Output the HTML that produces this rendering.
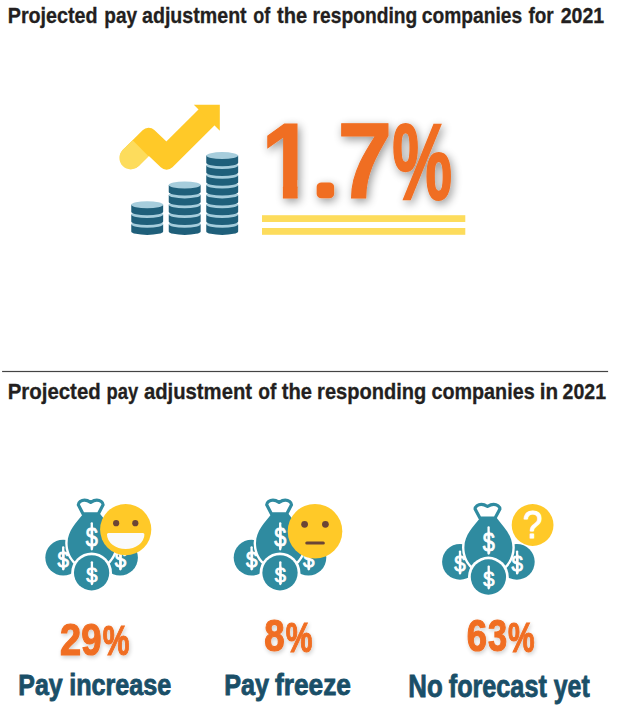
<!DOCTYPE html>
<html lang="en">
<head>
<meta charset="utf-8">
<title>Projected pay adjustment 2021</title>
<style>
  html, body { margin: 0; padding: 0; background: #ffffff; }
  body { width: 637px; height: 710px; overflow: hidden; }
  svg { display: block; }
  text { font-family: "Liberation Sans", sans-serif; font-weight: bold; }
  .title { fill: #231f20; font-size: 21.5px; stroke: #231f20; stroke-width: 0.3px; }
  .big { fill: #f06e22; font-size: 106.8px; stroke: #f06e22; stroke-width: 1.2px; }
  .big .dot { font-size: 48px; stroke-width: 8.4px; stroke-linejoin: round; }
  .big .pc { font-size: 108.4px; stroke-width: 2px; }
  .pct { fill: #f06e22; font-size: 43.8px; stroke: #f06e22; stroke-width: 1.2px; }
  .pct .sp { font-size: 42.4px; }
  .lbl { fill: #1a4f68; font-size: 28.7px; stroke: #1a4f68; stroke-width: 0.85px; }
  .lg { font-size: 31.9px; }
  .ds { fill: #ffffff; font-weight: normal; stroke: #ffffff; stroke-width: 0.8px; stroke-linejoin: round; }
  .qm { fill: #ffffff; font-weight: normal; stroke: #ffffff; stroke-width: 1.1px; stroke-linejoin: round; }
</style>
</head>
<body>
<svg width="637" height="710" viewBox="0 0 637 710">
  <defs>
    <clipPath id="nofoot"><path clip-rule="evenodd" d="M0 0H637V710H0Z M255 180H282.9V206H255Z M297.6 180H314.5V206H297.6Z"/></clipPath>
    <filter id="sh" x="-20%" y="-30%" width="140%" height="170%">
      <feGaussianBlur in="SourceAlpha" stdDeviation="4.6"/>
      <feOffset dx="2.2" dy="3.2" result="b"/>
      <feComponentTransfer><feFuncA type="linear" slope="0.42"/></feComponentTransfer>
      <feMerge><feMergeNode/><feMergeNode in="SourceGraphic"/></feMerge>
    </filter>
    <filter id="sh2" x="-20%" y="-30%" width="140%" height="170%">
      <feGaussianBlur in="SourceAlpha" stdDeviation="2"/>
      <feOffset dx="1" dy="1.5" result="b"/>
      <feComponentTransfer><feFuncA type="linear" slope="0.2"/></feComponentTransfer>
      <feMerge><feMergeNode/><feMergeNode in="SourceGraphic"/></feMerge>
    </filter>
  </defs>

  <!-- ===== Section 1 ===== -->
  <text class="title" y="22.8"><tspan x="7.72" textLength="89.91" lengthAdjust="spacingAndGlyphs">Projected</tspan> <tspan x="104.37" textLength="32.79" lengthAdjust="spacingAndGlyphs">pay</tspan> <tspan x="142.01" textLength="104.66" lengthAdjust="spacingAndGlyphs">adjustment</tspan> <tspan x="253.18" textLength="16.99" lengthAdjust="spacingAndGlyphs">of</tspan> <tspan x="277.10" textLength="30.21" lengthAdjust="spacingAndGlyphs">the</tspan> <tspan x="312.55" textLength="104.68" lengthAdjust="spacingAndGlyphs">responding</tspan> <tspan x="421.83" textLength="100.42" lengthAdjust="spacingAndGlyphs">companies</tspan> <tspan x="528.52" textLength="25.23" lengthAdjust="spacingAndGlyphs">for</tspan> <tspan x="560.71" textLength="43.47" lengthAdjust="spacingAndGlyphs">2021</tspan></text>

  <g id="arrow">
    <path d="M128.65 156.05 L148.55 136.15 L166.46 153.16 L206.18 113.73 L210.26 117.85 L166.54 161.24 L148.65 144.25 L132.75 160.15Z" fill="#ffc928" stroke="#ffc928" stroke-width="16.8" stroke-linejoin="round"/>
    <circle cx="130.7" cy="158.1" r="11.3" fill="#fddc5c"/>
    <line x1="130.7" y1="158.1" x2="140.6" y2="148.2" stroke="#fddc5c" stroke-width="22.6"/>
    <polygon points="193.8,104.8 219.8,104.8 219.8,130.8" fill="#ffc928"/>
  </g>
  <g id="coins">
    <path d="M131.25 224.34v7.06a15.95 3.5 0 0 0 31.90 0v-7.06z" fill="#1f5f7a"/>
    <ellipse cx="147.20" cy="224.34" rx="15.95" ry="3.5" fill="#a6cddc"/>
    <path d="M131.25 214.52v7.06a15.95 3.5 0 0 0 31.90 0v-7.06z" fill="#1f5f7a"/>
    <ellipse cx="147.20" cy="214.52" rx="15.95" ry="3.5" fill="#a6cddc"/>
    <path d="M131.25 204.70v7.06a15.95 3.5 0 0 0 31.90 0v-7.06z" fill="#1f5f7a"/>
    <ellipse cx="147.20" cy="204.70" rx="15.95" ry="3.5" fill="#a6cddc"/>
    <path d="M168.75 224.34v7.06a15.95 3.5 0 0 0 31.90 0v-7.06z" fill="#1f5f7a"/>
    <ellipse cx="184.70" cy="224.34" rx="15.95" ry="3.5" fill="#a6cddc"/>
    <path d="M168.75 214.52v7.06a15.95 3.5 0 0 0 31.90 0v-7.06z" fill="#1f5f7a"/>
    <ellipse cx="184.70" cy="214.52" rx="15.95" ry="3.5" fill="#a6cddc"/>
    <path d="M168.75 204.70v7.06a15.95 3.5 0 0 0 31.90 0v-7.06z" fill="#1f5f7a"/>
    <ellipse cx="184.70" cy="204.70" rx="15.95" ry="3.5" fill="#a6cddc"/>
    <path d="M168.75 194.88v7.06a15.95 3.5 0 0 0 31.90 0v-7.06z" fill="#1f5f7a"/>
    <ellipse cx="184.70" cy="194.88" rx="15.95" ry="3.5" fill="#a6cddc"/>
    <path d="M168.75 185.06v7.06a15.95 3.5 0 0 0 31.90 0v-7.06z" fill="#1f5f7a"/>
    <ellipse cx="184.70" cy="185.06" rx="15.95" ry="3.5" fill="#a6cddc"/>
    <path d="M206.25 224.34v7.06a15.95 3.5 0 0 0 31.90 0v-7.06z" fill="#1f5f7a"/>
    <ellipse cx="222.20" cy="224.34" rx="15.95" ry="3.5" fill="#a6cddc"/>
    <path d="M206.25 214.52v7.06a15.95 3.5 0 0 0 31.90 0v-7.06z" fill="#1f5f7a"/>
    <ellipse cx="222.20" cy="214.52" rx="15.95" ry="3.5" fill="#a6cddc"/>
    <path d="M206.25 204.70v7.06a15.95 3.5 0 0 0 31.90 0v-7.06z" fill="#1f5f7a"/>
    <ellipse cx="222.20" cy="204.70" rx="15.95" ry="3.5" fill="#a6cddc"/>
    <path d="M206.25 194.88v7.06a15.95 3.5 0 0 0 31.90 0v-7.06z" fill="#1f5f7a"/>
    <ellipse cx="222.20" cy="194.88" rx="15.95" ry="3.5" fill="#a6cddc"/>
    <path d="M206.25 185.06v7.06a15.95 3.5 0 0 0 31.90 0v-7.06z" fill="#1f5f7a"/>
    <ellipse cx="222.20" cy="185.06" rx="15.95" ry="3.5" fill="#a6cddc"/>
    <path d="M206.25 175.24v7.06a15.95 3.5 0 0 0 31.90 0v-7.06z" fill="#1f5f7a"/>
    <ellipse cx="222.20" cy="175.24" rx="15.95" ry="3.5" fill="#a6cddc"/>
    <path d="M206.25 165.42v7.06a15.95 3.5 0 0 0 31.90 0v-7.06z" fill="#1f5f7a"/>
    <ellipse cx="222.20" cy="165.42" rx="15.95" ry="3.5" fill="#a6cddc"/>
    <path d="M206.25 155.60v7.06a15.95 3.5 0 0 0 31.90 0v-7.06z" fill="#1f5f7a"/>
    <ellipse cx="222.20" cy="155.60" rx="15.95" ry="3.5" fill="#a6cddc"/>
  </g>


  <g filter="url(#sh)">
    <text class="big" clip-path="url(#nofoot)" y="197.8"><tspan x="261.16" textLength="53.58" lengthAdjust="spacingAndGlyphs">1</tspan><tspan class="dot" x="317.8" y="194.2" textLength="15.35" lengthAdjust="spacingAndGlyphs">.</tspan><tspan x="337.56" y="197.8" textLength="54.77" lengthAdjust="spacingAndGlyphs">7</tspan><tspan class="pc" x="392.18" y="198.6" textLength="59.86" lengthAdjust="spacingAndGlyphs">%</tspan></text>
  </g>
  <rect x="262" y="215.2" width="203.3" height="6.8" fill="#fddc5c"/>
  <rect x="262" y="228" width="203.3" height="6.8" fill="#fddc5c"/>

  <!-- ===== Divider ===== -->
  <rect x="2.1" y="370.9" width="606" height="1.2" fill="#444444"/>

  <!-- ===== Section 2 ===== -->
  <text class="title" y="399"><tspan x="7.67" textLength="93.10" lengthAdjust="spacingAndGlyphs">Projected</tspan> <tspan x="106.61" textLength="31.65" lengthAdjust="spacingAndGlyphs">pay</tspan> <tspan x="143.89" textLength="108.19" lengthAdjust="spacingAndGlyphs">adjustment</tspan> <tspan x="258.23" textLength="18.14" lengthAdjust="spacingAndGlyphs">of</tspan> <tspan x="281.70" textLength="30.31" lengthAdjust="spacingAndGlyphs">the</tspan> <tspan x="317.09" textLength="109.30" lengthAdjust="spacingAndGlyphs">responding</tspan> <tspan x="431.41" textLength="103.26" lengthAdjust="spacingAndGlyphs">companies</tspan> <tspan x="539.75" textLength="18.36" lengthAdjust="spacingAndGlyphs">in</tspan> <tspan x="562.61" textLength="43.47" lengthAdjust="spacingAndGlyphs">2021</tspan></text>

  <!-- ICONS-START -->
  <g id="icons">
    <g transform="translate(91.6 572.8)">
    <circle cx="-28.4" cy="-15.2" r="17.9" fill="#2f8ba0"/>
    <circle cx="28.4" cy="-15.2" r="17.9" fill="#2f8ba0"/>
    <rect x="-29.55" y="-26.60" width="2.3" height="24.20" rx="1.1" fill="#fff"/><text x="-34.06" y="-5.85" font-size="21.35" textLength="11.44" lengthAdjust="spacingAndGlyphs" class="ds">$</text>
    <rect x="27.55" y="-26.60" width="2.3" height="24.20" rx="1.1" fill="#fff"/><text x="23.04" y="-5.85" font-size="21.35" textLength="11.44" lengthAdjust="spacingAndGlyphs" class="ds">$</text>
    <path d="M-8.4 -59C-15 -50 -24 -42.5 -24 -29.5C-24 -16 -14 -4 0 -4C14 -4 24 -16 24 -29.5C24 -42.5 15 -50 8.4 -59Z" fill="#2f8ba0" stroke="#fff" stroke-width="4.8" paint-order="stroke"/>
    <path d="M-8.5 -58.9L-13.3 -68C-13.3 -70.4 -10.4 -72.7 -7.05 -72.7C-4.8 -72.7 -2.6 -71.6 -0.9 -70.5C0.8 -71.6 3 -72.7 5.25 -72.7C8.6 -72.7 11.5 -70.4 11.5 -68L6.7 -58.9Z" fill="#fff" stroke="#2f8ba0" stroke-width="3.2" stroke-linejoin="round"/>
    <rect x="-0.95" y="-50.65" width="2.3" height="28.30" rx="1.1" fill="#fff"/><text x="-5.77" y="-26.32" font-size="25.14" textLength="12.07" lengthAdjust="spacingAndGlyphs" class="ds">$</text>
    <circle cx="0" cy="0" r="20.4" fill="#fff"/>
    <circle cx="0" cy="0" r="17.65" fill="#2f8ba0"/>
    <rect x="-0.85" y="-11.60" width="2.3" height="24.00" rx="1.1" fill="#fff"/><text x="-5.25" y="8.88" font-size="20.95" textLength="11.23" lengthAdjust="spacingAndGlyphs" class="ds">$</text>
    </g>
    <g id="happy">
      <circle cx="125.7" cy="529.6" r="25.6" fill="#ffc928"/>
      <circle cx="116.15" cy="523.2" r="3.1" fill="#6b4536"/>
      <circle cx="135.3" cy="523.2" r="3.1" fill="#6b4536"/>
      <path d="M108.5 532.9h34.4q1.6 0 1.5 1.6a18.7 14.6 0 0 1 -37.4 0q-.1 -1.6 1.5 -1.6z" fill="#fafafa"/>
    </g>
    <g transform="translate(280.0 572.8)">
    <circle cx="-28.4" cy="-15.2" r="17.9" fill="#2f8ba0"/>
    <circle cx="28.4" cy="-15.2" r="17.9" fill="#2f8ba0"/>
    <rect x="-29.55" y="-26.60" width="2.3" height="24.20" rx="1.1" fill="#fff"/><text x="-34.06" y="-5.85" font-size="21.35" textLength="11.44" lengthAdjust="spacingAndGlyphs" class="ds">$</text>
    <rect x="27.55" y="-26.60" width="2.3" height="24.20" rx="1.1" fill="#fff"/><text x="23.04" y="-5.85" font-size="21.35" textLength="11.44" lengthAdjust="spacingAndGlyphs" class="ds">$</text>
    <path d="M-8.4 -59C-15 -50 -24 -42.5 -24 -29.5C-24 -16 -14 -4 0 -4C14 -4 24 -16 24 -29.5C24 -42.5 15 -50 8.4 -59Z" fill="#2f8ba0" stroke="#fff" stroke-width="4.8" paint-order="stroke"/>
    <path d="M-8.5 -58.9L-13.3 -68C-13.3 -70.4 -10.4 -72.7 -7.05 -72.7C-4.8 -72.7 -2.6 -71.6 -0.9 -70.5C0.8 -71.6 3 -72.7 5.25 -72.7C8.6 -72.7 11.5 -70.4 11.5 -68L6.7 -58.9Z" fill="#fff" stroke="#2f8ba0" stroke-width="3.2" stroke-linejoin="round"/>
    <rect x="-0.95" y="-50.65" width="2.3" height="28.30" rx="1.1" fill="#fff"/><text x="-5.77" y="-26.32" font-size="25.14" textLength="12.07" lengthAdjust="spacingAndGlyphs" class="ds">$</text>
    <circle cx="0" cy="0" r="20.4" fill="#fff"/>
    <circle cx="0" cy="0" r="17.65" fill="#2f8ba0"/>
    <rect x="-0.85" y="-11.60" width="2.3" height="24.00" rx="1.1" fill="#fff"/><text x="-5.25" y="8.88" font-size="20.95" textLength="11.23" lengthAdjust="spacingAndGlyphs" class="ds">$</text>
    </g>
    <g id="neutral">
      <circle cx="315" cy="531.2" r="27.3" fill="#ffc928"/>
      <circle cx="304.6" cy="524.3" r="3.4" fill="#6b4536"/>
      <circle cx="325.4" cy="524.3" r="3.4" fill="#6b4536"/>
      <line x1="306.8" y1="543" x2="323.3" y2="543" stroke="#6b4536" stroke-width="3.1" stroke-linecap="round"/>
    </g>
    <g transform="translate(488.4 577.0)">
    <circle cx="-28.4" cy="-15.2" r="17.9" fill="#2f8ba0"/>
    <circle cx="28.4" cy="-15.2" r="17.9" fill="#2f8ba0"/>
    <rect x="-29.55" y="-26.60" width="2.3" height="24.20" rx="1.1" fill="#fff"/><text x="-34.06" y="-5.85" font-size="21.35" textLength="11.44" lengthAdjust="spacingAndGlyphs" class="ds">$</text>
    <rect x="27.55" y="-26.60" width="2.3" height="24.20" rx="1.1" fill="#fff"/><text x="23.04" y="-5.85" font-size="21.35" textLength="11.44" lengthAdjust="spacingAndGlyphs" class="ds">$</text>
    <path d="M-8.4 -59C-15 -50 -24 -42.5 -24 -29.5C-24 -16 -14 -4 0 -4C14 -4 24 -16 24 -29.5C24 -42.5 15 -50 8.4 -59Z" fill="#2f8ba0" stroke="#fff" stroke-width="4.8" paint-order="stroke"/>
    <path d="M-8.5 -58.9L-13.3 -68C-13.3 -70.4 -10.4 -72.7 -7.05 -72.7C-4.8 -72.7 -2.6 -71.6 -0.9 -70.5C0.8 -71.6 3 -72.7 5.25 -72.7C8.6 -72.7 11.5 -70.4 11.5 -68L6.7 -58.9Z" fill="#fff" stroke="#2f8ba0" stroke-width="3.2" stroke-linejoin="round"/>
    <rect x="-0.95" y="-50.65" width="2.3" height="28.30" rx="1.1" fill="#fff"/><text x="-5.77" y="-26.32" font-size="25.14" textLength="12.07" lengthAdjust="spacingAndGlyphs" class="ds">$</text>
    <circle cx="0" cy="0" r="20.4" fill="#fff"/>
    <circle cx="0" cy="0" r="17.65" fill="#2f8ba0"/>
    <rect x="-0.85" y="-11.60" width="2.3" height="24.00" rx="1.1" fill="#fff"/><text x="-5.25" y="8.88" font-size="20.95" textLength="11.23" lengthAdjust="spacingAndGlyphs" class="ds">$</text>
    </g>
    <g id="unknown">
      <circle cx="532.6" cy="525" r="20.9" fill="#ffc928"/>
      <text x="523.0" y="538.4" font-size="39.0" textLength="19.4" lengthAdjust="spacingAndGlyphs" class="qm">?</text>
    </g>
    </g>
  <!-- ICONS-END -->

  <g filter="url(#sh2)">
    <text class="pct" y="654.6"><tspan x="60.06" textLength="21.11" lengthAdjust="spacingAndGlyphs">2</tspan><tspan x="81.34" textLength="20.28" lengthAdjust="spacingAndGlyphs">9</tspan><tspan class="sp" dy="0.6" x="102.70" textLength="26.68" lengthAdjust="spacingAndGlyphs">%</tspan></text>
    <text class="pct" y="650.9"><tspan x="264.30" textLength="20.36" lengthAdjust="spacingAndGlyphs">8</tspan><tspan class="sp" dy="0.6" x="285.70" textLength="26.68" lengthAdjust="spacingAndGlyphs">%</tspan></text>
    <text class="pct" y="651.1"><tspan x="466.84" textLength="20.28" lengthAdjust="spacingAndGlyphs">6</tspan><tspan x="488.11" textLength="19.13" lengthAdjust="spacingAndGlyphs">3</tspan><tspan class="sp" dy="0.6" x="508.10" textLength="26.57" lengthAdjust="spacingAndGlyphs">%</tspan></text>
  </g>

  <text class="lbl" y="695.4"><tspan x="18.35" textLength="44.38" lengthAdjust="spacingAndGlyphs">Pay</tspan> <tspan x="69.24" textLength="102.03" lengthAdjust="spacingAndGlyphs">increase</tspan></text>
  <text class="lbl" y="695.4"><tspan x="224.34" textLength="44.80" lengthAdjust="spacingAndGlyphs">Pay</tspan> <tspan x="274.97" textLength="75.93" lengthAdjust="spacingAndGlyphs">freeze</tspan></text>
  <text class="lbl lg" y="697.2"><tspan x="408.29" textLength="34.42" lengthAdjust="spacingAndGlyphs">No</tspan> <tspan x="448.80" textLength="97.97" lengthAdjust="spacingAndGlyphs">forecast</tspan> <tspan x="553.75" textLength="35.93" lengthAdjust="spacingAndGlyphs">yet</tspan></text>
</svg>
</body>
</html>
